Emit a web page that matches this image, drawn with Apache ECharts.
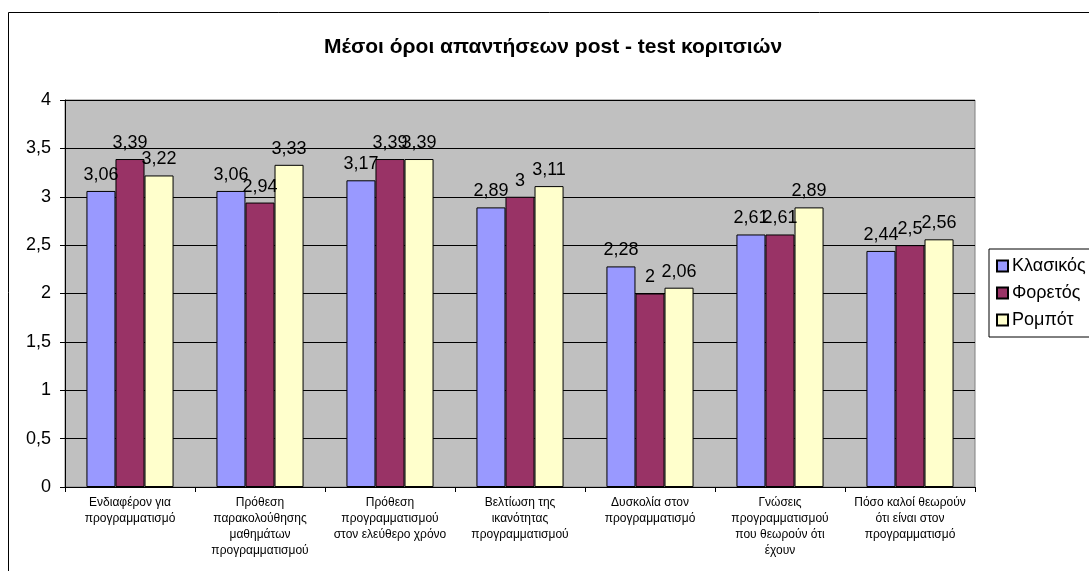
<!DOCTYPE html>
<html><head><meta charset="utf-8">
<script src="https://cdn.jsdelivr.net/npm/echarts@6/dist/echarts.min.js"></script>
<style>html,body{margin:0;padding:0;background:#fff}#c{width:1089px;height:571px}</style>
</head><body><div id="c"></div>
<script>
const categories = [
  "Ενδιαφέρον για\nπρογραμματισμό",
  "Πρόθεση\nπαρακολούθησης\nμαθημάτων\nπρογραμματισμού",
  "Πρόθεση\nπρογραμματισμού\nστον ελεύθερο χρόνο",
  "Βελτίωση της\nικανότητας\nπρογραμματισμού",
  "Δυσκολία στον\nπρογραμματισμό",
  "Γνώσεις\nπρογραμματισμού\nπου θεωρούν ότι\nέχουν",
  "Πόσο καλοί θεωρούν\nότι είναι στον\nπρογραμματισμό"
];
const seriesNames = ["Κλασικός", "Φορετός", "Ρομπότ"];
const klasikos = [3.06, 3.06, 3.17, 2.89, 2.28, 2.61, 2.44];
const foretos  = [3.39, 2.94, 3.39, 3.00, 2.00, 2.61, 2.50];
const robot    = [3.22, 3.33, 3.39, 3.11, 2.06, 2.89, 2.56];
const colors = ["#9999FF", "#993366", "#FFFFCC"];
const titleText = "Μέσοι όροι απαντήσεων post - test κοριτσιών";

const fmt = v => String(v).replace('.', ',');
const FONT = "'Liberation Sans', Arial, sans-serif";

const chart = echarts.init(document.getElementById('c'), null, {renderer: 'canvas'});
const mk = (name, data, color) => ({
  name, type: 'bar', data,
  itemStyle: {color, borderColor: '#000', borderWidth: 1},
  barCategoryGap: '33%', barGap: '0%',
  label: {show: true, position: 'top', distance: 7, color: '#000', fontSize: 18, fontFamily: FONT,
    formatter: p => fmt(p.value)},
  emphasis: {disabled: true}
});
chart.setOption({
  animation: false,
  backgroundColor: '#fff',
  title: {text: titleText, left: 548, textAlign: 'center', top: 32,
    textStyle: {fontSize: 21, fontWeight: 'bold', color: '#000', fontFamily: FONT}},
  graphic: [{type: 'rect', shape: {x: 8.5, y: 12.5, width: 1100, height: 600},
    style: {fill: 'none', stroke: '#000', lineWidth: 1}, z: -10}],
  legend: {
    orient: 'vertical', left: 989, top: 249, itemWidth: 11, itemHeight: 11, itemGap: 9,
    padding: [8, 30, 8, 7], borderColor: '#000', borderWidth: 1, backgroundColor: '#fff',
    icon: 'rect',
    textStyle: {fontSize: 18, color: '#000', fontFamily: FONT, padding: [0, 0, 0, -1]},
    data: seriesNames
  },
  grid: {left: 65, right: 114, top: 100, bottom: 84, show: true, backgroundColor: '#C0C0C0',
    borderColor: '#808080', borderWidth: 1},
  xAxis: {type: 'category', data: categories,
    axisLine: {lineStyle: {color: '#000'}},
    axisTick: {show: true, alignWithLabel: false, length: 5, lineStyle: {color: '#000'}},
    axisLabel: {interval: 0, fontSize: 12, lineHeight: 16, color: '#000', fontFamily: FONT, margin: 8}},
  yAxis: {type: 'value', min: 0, max: 4, interval: 0.5,
    axisLine: {show: true, lineStyle: {color: '#000'}},
    axisTick: {show: true, length: 5, lineStyle: {color: '#000'}},
    splitLine: {lineStyle: {color: '#000', width: 1}},
    axisLabel: {fontSize: 18, color: '#000', fontFamily: FONT, margin: 14, formatter: v => fmt(v)}},
  series: [mk(seriesNames[0], klasikos, colors[0]), mk(seriesNames[1], foretos, colors[1]), mk(seriesNames[2], robot, colors[2])]
});
</script></body></html>
